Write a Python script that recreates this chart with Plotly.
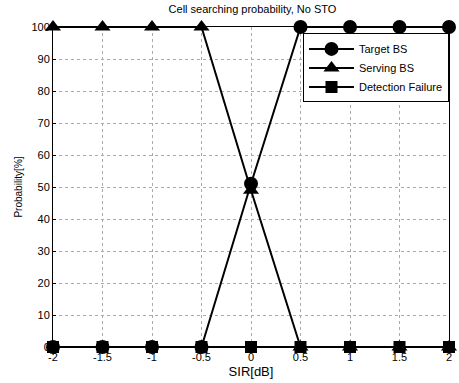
import plotly.graph_objects as go

sir = [-2, -1.5, -1, -0.5, 0, 0.5, 1, 1.5, 2]
target_bs = [0, 0, 0, 0, 51, 100, 100, 100, 100]
serving_bs = [100, 100, 100, 100, 49, 0, 0, 0, 0]
detection_failure = [0, 0, 0, 0, 0, 0, 0, 0, 0]

x_ticks = [-2, -1.5, -1, -0.5, 0, 0.5, 1, 1.5, 2]
y_ticks = [0, 10, 20, 30, 40, 50, 60, 70, 80, 90, 100]

fig = go.Figure()
fig.add_trace(go.Scatter(x=sir, y=target_bs, name="Target BS", mode="lines+markers",
                         line=dict(color="black", width=2),
                         marker=dict(symbol="circle", size=14, color="black"), cliponaxis=False))
fig.add_trace(go.Scatter(x=sir, y=serving_bs, name="Serving BS", mode="lines+markers",
                         line=dict(color="black", width=2),
                         marker=dict(symbol="triangle-up", size=14, color="black"), cliponaxis=False))
fig.add_trace(go.Scatter(x=sir, y=detection_failure, name="Detection Failure", mode="lines+markers",
                         line=dict(color="black", width=2),
                         marker=dict(symbol="square", size=12, color="black"), cliponaxis=False))

fig.update_layout(
    width=459, height=383,
    margin=dict(l=53, r=7, t=27, b=36),
    paper_bgcolor="white", plot_bgcolor="white",
    font=dict(family="Liberation Sans, Arial", size=11, color="black"),
    title=dict(text="Cell searching probability, No STO", x=0.55, xanchor="center",
               y=0.985, yanchor="top", font=dict(size=11)),
    legend=dict(x=1.0, y=0.98, xanchor="right", yanchor="top",
                bgcolor="white", bordercolor="black", borderwidth=1,
                font=dict(size=11), tracegroupgap=0, itemwidth=45),
    showlegend=True,
)
fig.update_xaxes(range=[-2, 2], tickvals=x_ticks, ticktext=[str(v) for v in x_ticks],
                 title=dict(text="SIR[dB]", standoff=4),
                 showline=True, linecolor="black", linewidth=1, mirror=True,
                 showgrid=True, gridcolor="#aaaaaa", griddash="dot", gridwidth=1,
                 zeroline=False, ticks="inside", ticklen=3, tickcolor="black")
fig.update_yaxes(range=[0, 100], tickvals=y_ticks,
                 title=dict(text="Probability[%]", standoff=6, font=dict(size=10)),
                 showline=True, linecolor="black", linewidth=1, mirror=True,
                 showgrid=True, gridcolor="#aaaaaa", griddash="dot", gridwidth=1,
                 zeroline=False, ticks="inside", ticklen=3, tickcolor="black")

fig.write_html("out.html")
